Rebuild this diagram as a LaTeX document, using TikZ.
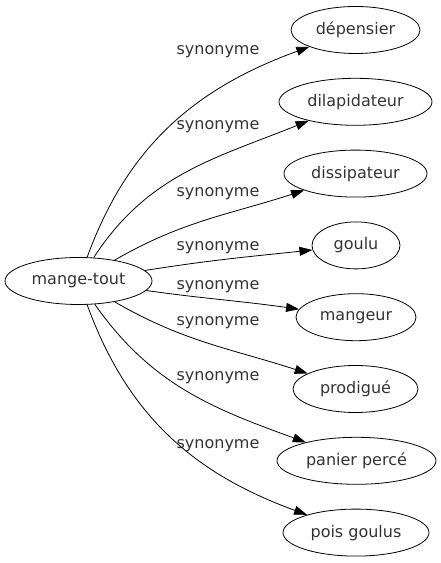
\documentclass[tikz,border=0pt]{standalone}
\usepackage{fontspec}
\setmainfont{DejaVu Sans}
\usetikzlibrary{shapes.geometric,arrows.meta}
\tikzset{
  word/.style={ellipse,draw=black,text=black!80,line width=0.8pt,inner sep=0pt,minimum height=47pt,font=\fontsize{16}{18}\selectfont},
  rel/.style={text=black!80,font=\fontsize{16}{18}\selectfont,inner sep=0pt},
  link/.style={line width=0.8pt,-{Triangle[length=13pt,width=9pt]}}
}
\begin{document}
\begin{tikzpicture}[x=1pt,y=1pt]
\useasboundingbox (0,0) rectangle (440,563);
\node[word,minimum width=147pt] (m) at (78.5,282) {mange-tout};
\node[word,minimum width=129pt] (d1) at (355.5,533) {dépensier};
\node[word,minimum width=153pt] (d2) at (355.5,461.2) {dilapidateur};
\node[word,minimum width=143pt] (d3) at (355.5,389.4) {dissipateur};
\node[word,minimum width=88pt] (d4) at (356,317.6) {goulu};
\node[word,minimum width=120pt] (d5) at (356,245.8) {mangeur};
\node[word,minimum width=125pt] (d6) at (355.5,174) {prodigué};
\node[word,minimum width=159pt] (d7) at (356.5,102.2) {panier percé};
\node[word,minimum width=146pt] (d8) at (356,30.4) {pois goulus};
\node[rel] (l1) at (218,511) {synonyme};
\node[rel] (l2) at (218,436) {synonyme};
\node[rel] (l3) at (218,369) {synonyme};
\node[rel] (l4) at (218,315) {synonyme};
\node[rel] (l5) at (218,276) {synonyme};
\node[rel] (l6) at (218,240) {synonyme};
\node[rel] (l7) at (218,185) {synonyme};
\node[rel] (l8) at (218,117) {synonyme};
\draw[link] (m) to[out=70,in=200] (d1);
\draw[link] (m) to[out=57,in=202] (d2);
\draw[link] (m) to[out=30,in=198] (d3);
\draw[link] (m) to[out=9,in=186] (d4);
\draw[link] (m) to[out=-8,in=172] (d5);
\draw[link] (m) to[out=-30,in=162] (d6);
\draw[link] (m) to[out=-55,in=160] (d7);
\draw[link] (m) to[out=-70,in=160] (d8);
\end{tikzpicture}
\end{document}
